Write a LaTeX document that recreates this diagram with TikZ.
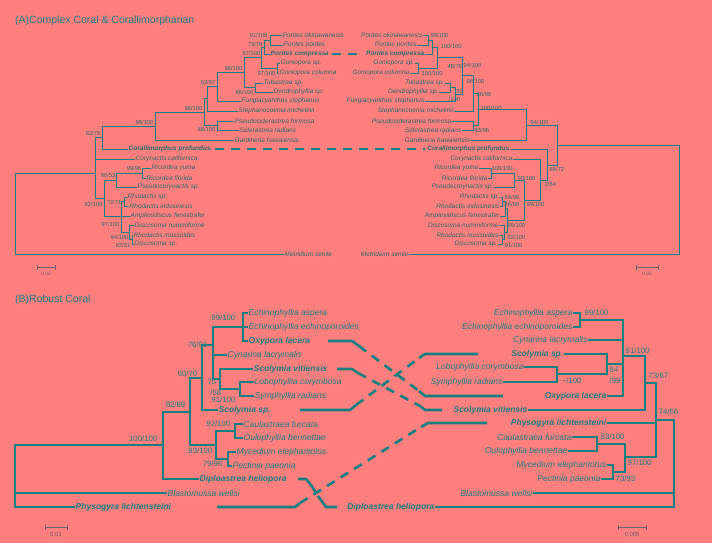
\documentclass[tikz,border=0pt]{standalone}
\usepackage{fontspec}
\setmainfont{Liberation Sans}
\definecolor{bg}{RGB}{255,127,127}
\definecolor{ln}{RGB}{22,128,128}
\definecolor{tx}{RGB}{40,108,108}
\definecolor{gr}{RGB}{105,100,110}
\tikzset{
 br/.style={draw=ln,line width=0.8pt},
 brb/.style={draw=ln,line width=1.2pt},
 sbar/.style={draw=gr,line width=0.9pt},
 ta/.style={inner sep=0.5pt,text=tx,font=\fontsize{6.5}{7}\selectfont\itshape},
 tab/.style={ta,font=\fontsize{6.5}{7}\selectfont\bfseries\itshape},
 sa/.style={inner sep=0.5pt,text=tx,font=\fontsize{5.8}{6}\selectfont},
 tb/.style={inner sep=0.5pt,text=ln,font=\fontsize{8.5}{9}\selectfont\itshape},
 tbb/.style={tb,font=\fontsize{8.5}{9}\selectfont\bfseries\itshape},
 sb/.style={inner sep=0.5pt,text=ln,font=\fontsize{7.8}{8}\selectfont},
 thk/.style={draw=ln,line width=2.6pt},
 thkd/.style={draw=ln,line width=2.6pt,dash pattern=on 9pt off 7pt},
 ttl/.style={inner sep=0pt,text=ln,font=\fontsize{10.5}{11}\selectfont,anchor=west},
}
\newcommand\ed[2]{\draw[br] (#1) |- (#2);}
\newcommand\eb[2]{\draw[brb] (#1) |- (#2);}
\newcommand\sbr[2]{\draw[sbar] (#1) -- (#2);
 \draw[sbar] ([yshift=2.5pt]#1) -- ([yshift=-2.5pt]#1);
 \draw[sbar] ([yshift=2.5pt]#2) -- ([yshift=-2.5pt]#2);}
\begin{document}
\begin{tikzpicture}[x=1pt,y=-1pt]
\fill[bg] (0,0) rectangle (712,543);
\useasboundingbox (0,0) rectangle (712,543);
\node[ttl] (tA) at (15,21) {(A)Complex Coral \& Corallimorpharian};
\node[ttl] (tB) at (15,300) {(B)Robust Coral};
% ===== A left
\begin{scope}[every node/.append style={anchor=west}]
\node[ta] (a1) at (282,35) {Porites okinawanesis};
\node[ta] (a2) at (283,45) {Porites porites};
\node[tab] (a3) at (270,54) {Porites compressa};
\node[ta] (a4) at (280,63) {Goniopora sp.};
\node[ta] (a5) at (279,73) {Goniopora columna};
\node[ta] (a6) at (263,83) {Tubastrea sp.};
\node[ta] (a7) at (273,92) {Dendrophyllia sp.};
\node[ta] (a8) at (241,101) {Fungiacyanthus stephanus};
\node[ta] (a9) at (238,111) {Stephanocoenia michelinii};
\node[ta] (a10) at (234,121) {Pseudosiderastrea formosa};
\node[ta] (a11) at (239,130) {Siderastrea radians};
\node[ta] (a12) at (234,140) {Gardineria hawaiensis};
\node[tab] (a13) at (128,149) {Corallimorphus profundus};
\node[ta] (a14) at (135,159) {Corynactis californica};
\node[ta] (a15) at (151,168) {Ricordea yuma};
\node[ta] (a16) at (146,178) {Ricordea florida};
\node[ta] (a17) at (137,187) {Pseudocorynactis sp.};
\node[ta] (a18) at (127,197) {Rhodactis sp.};
\node[ta] (a19) at (129,206) {Rhodactis indosinesis};
\node[ta] (a20) at (130,216) {Amplexidiscus fenestrafer};
\node[ta] (a21) at (134,225) {Discosoma nummiforme};
\node[ta] (a22) at (133,235) {Rhodactis mussoides};
\node[ta] (a23) at (134,244) {Discosoma sp.};
\node[ta] (a24) at (284,254) {Metridium senile};
\end{scope}
\coordinate (ap) at (270,40); \coordinate (a73) at (264,47);
\coordinate (agon) at (277,68); \coordinate (a97) at (261,57);
\coordinate (atub) at (255,87); \coordinate (a98) at (244,72);
\coordinate (a52) at (217,86); \coordinate (ax) at (207,98);
\coordinate (asid) at (217,125); \coordinate (a98b) at (204,112);
\coordinate (a98a) at (155,126); \coordinate (a82) at (102,137);
\coordinate (aric) at (142,173); \coordinate (a90) at (116,180);
\coordinate (a72) at (124,201); \coordinate (a82b) at (132,239.5);
\coordinate (a94) at (129,232); \coordinate (a97b) at (121,216);
\coordinate (a92) at (104,198); \coordinate (ag) at (95,173);
\coordinate (aroot) at (15,213);
\ed{ap}{a1.west}\ed{ap}{a2.west}\ed{a73}{ap}\ed{a73}{a3.west}
\ed{agon}{a4.west}\ed{agon}{a5.west}\ed{a97}{a73}\ed{a97}{agon}
\ed{atub}{a6.west}\ed{atub}{a7.west}\ed{a98}{a97}\ed{a98}{atub}
\ed{a52}{a98}\ed{a52}{a8.west}\ed{ax}{a52}\ed{ax}{a9.west}
\ed{asid}{a10.west}\ed{asid}{a11.west}\ed{a98b}{ax}\ed{a98b}{asid}
\ed{a98a}{a98b}\ed{a98a}{a12.west}\ed{a82}{a98a}\ed{a82}{a13.west}
\ed{aric}{a15.west}\ed{aric}{a16.west}\ed{a90}{aric}\ed{a90}{a17.west}
\ed{a72}{a18.west}\ed{a72}{a19.west}\ed{a82b}{a22.west}\ed{a82b}{a23.west}
\ed{a94}{a21.west}\ed{a94}{a82b}\ed{a97b}{a72}\ed{a97b}{a20.west}\ed{a97b}{a94}
\ed{a92}{a90}\ed{a92}{a97b}\ed{ag}{a82}\ed{ag}{a14.west}\ed{ag}{a92}
\ed{aroot}{ag}\ed{aroot}{a24.west}
\begin{scope}[every node/.append style={sa,anchor=east}]
\node (la1) at (268,35) {91/100}; \node (la2) at (263,44) {73/79};
\node (la3) at (261,53) {97/100}; \node (la4) at (276,73) {97/100};
\node (la5) at (243,68) {98/100}; \node (la6) at (254,92) {88/100};
\node (la7) at (216,82) {52/67}; \node (la8) at (203,108) {98/100};
\node (la9) at (216,129) {88/100}; \node (la10) at (154,122) {98/100};
\node (la11) at (101,133) {82/76}; \node (la12) at (142,168) {99/96};
\node (la13) at (116,175) {90/53}; \node (la14) at (103,204) {92/100};
\node (la15) at (122,202) {72/71}; \node (la16) at (120,224) {97/100};
\node (la17) at (129,237) {94/100}; \node (la18) at (131,245) {82/91};
\end{scope}
% ===== A right
\begin{scope}[every node/.append style={anchor=east}]
\node[ta] (b1) at (423,35) {Porites okinawanesis};
\node[ta] (b2) at (417,45) {Porites porites};
\node[tab] (b3) at (425,54) {Porites compressa};
\node[ta] (b4) at (415,63) {Goniopora sp.};
\node[ta] (b5) at (410,73) {Goniopora columna};
\node[ta] (b6) at (445,83) {Tubastrea sp.};
\node[ta] (b7) at (439,92) {Dendrophyllia sp.};
\node[ta] (b8) at (425,101) {Fungiacyanthus stephanus};
\node[ta] (b9) at (454,111) {Stephanocoenia michelinii};
\node[ta] (b10) at (452,121) {Pseudosiderastrea formosa};
\node[ta] (b11) at (462,130) {Siderastrea radians};
\node[ta] (b12) at (470,140) {Gardineria hawaiensis};
\node[tab] (b13) at (510,149) {Corallimorphus profundus};
\node[ta] (b14) at (513,159) {Corynactis californica};
\node[ta] (b15) at (479,168) {Ricordea yuma};
\node[ta] (b16) at (488,178) {Ricordea florida};
\node[ta] (b17) at (494,187) {Pseudocorynactis sp.};
\node[ta] (b18) at (500,197) {Rhodactis sp.};
\node[ta] (b19) at (500,206) {Rhodactis indosinesis};
\node[ta] (b20) at (500,216) {Amplexidiscus fenestrafer};
\node[ta] (b21) at (499,225) {Discosoma nummiforme};
\node[ta] (b22) at (499,235) {Rhodactis mussoides};
\node[ta] (b23) at (498,244) {Discosoma sp.};
\node[ta] (b24) at (409,254) {Metridium senile};
\end{scope}
\coordinate (bp) at (428,40); \coordinate (b100) at (432,47);
\coordinate (bgon) at (418,68); \coordinate (b48) at (437,57);
\coordinate (btub) at (450,87); \coordinate (b93) at (455,94);
\coordinate (b94) at (462,75); \coordinate (b86) at (473,93);
\coordinate (bsid) at (473,125); \coordinate (b100b) at (478,109);
\coordinate (b94b) at (526,125); \coordinate (b66) at (557,145);
\coordinate (b66b) at (547,165); \coordinate (b2n) at (540,180);
\coordinate (broot) at (679,200); \coordinate (bric) at (491,173);
\coordinate (b90) at (514,180); \coordinate (b99) at (524,200);
\coordinate (bna) at (502,201); \coordinate (bnb) at (505,208);
\coordinate (bnc) at (502,239.5); \coordinate (bnd) at (504,232);
\coordinate (bne) at (507,220);
\ed{bp}{b1.east}\ed{bp}{b2.east}\ed{b100}{bp}\ed{b100}{b3.east}
\ed{bgon}{b4.east}\ed{bgon}{b5.east}\ed{b48}{b100}\ed{b48}{bgon}
\ed{btub}{b6.east}\ed{btub}{b7.east}\ed{b93}{btub}\ed{b93}{b8.east}
\ed{b94}{b48}\ed{b94}{b93}\ed{b86}{b94}\ed{b86}{b9.east}
\ed{bsid}{b10.east}\ed{bsid}{b11.east}\ed{b100b}{b86}\ed{b100b}{bsid}
\ed{b94b}{b100b}\ed{b94b}{b12.east}\ed{b66}{b94b}\ed{b66}{b66b}
\ed{b66b}{b13.east}\ed{b66b}{b2n}\ed{b2n}{b14.east}\ed{b2n}{b99}
\ed{broot}{b66}\ed{broot}{b24.east}
\ed{bric}{b15.east}\ed{bric}{b16.east}\ed{b90}{bric}\ed{b90}{b17.east}
\ed{b99}{b90}\ed{b99}{bne}\ed{bna}{b18.east}\ed{bna}{b19.east}
\ed{bnb}{bna}\ed{bnb}{b20.east}\ed{bnc}{b22.east}\ed{bnc}{b23.east}
\ed{bnd}{b21.east}\ed{bnd}{bnc}\ed{bne}{bnb}\ed{bne}{bnd}
\begin{scope}[every node/.append style={sa,anchor=west}]
\node (lb1) at (430,35) {99/100}; \node (lb2) at (440,46) {100/100};
\node (lb3) at (447,66) {48/76}; \node (lb4) at (421,73) {100/100};
\node (lb5) at (463,65) {94/100}; \node (lb6) at (466,81) {96/100};
\node (lb7) at (456,92) {93}; \node (lb8) at (448,99) {/100};
\node (lb9) at (476,94) {86/99}; \node (lb10) at (480,108) {100/100};
\node (lb11) at (474,130) {83/96}; \node (lb12) at (530,122) {94/100};
\node (lb13) at (549,169) {66/72}; \node (lb14) at (544,184) {2/64};
\node (lb15) at (491,168) {100/100}; \node (lb16) at (517,178) {90/100};
\node (lb17) at (504,197) {84/98}; \node (lb18) at (504,204) {86/99};
\node (lb19) at (526,204) {99/100}; \node (lb20) at (507,225) {99/100};
\node (lb21) at (507,237) {92/100}; \node (lb22) at (504,245) {91/100};
\end{scope}
\draw[thkd] ([xshift=2pt]a3.east) -- ([xshift=-2pt]b3.west);
\draw[thkd] ([xshift=4pt]a13.east) -- ([xshift=-2pt]b13.west);
% scale bars A
\coordinate (sa1) at (37,267); \coordinate (sa2) at (55,267);
\sbr{sa1}{sa2}
\node[inner sep=0pt,text=gr,font=\fontsize{4.8}{5}\selectfont] (sal) at (46,274) {0.02};
\coordinate (sb1) at (636,267); \coordinate (sb2) at (658,267);
\sbr{sb1}{sb2}
\node[inner sep=0pt,text=gr,font=\fontsize{4.8}{5}\selectfont] (sbl) at (647,274) {0.05};
% ===== B left
\begin{scope}[every node/.append style={anchor=west}]
\node[tb] (c1) at (248,313) {Echinophyllia aspera};
\node[tb] (c2) at (248,327) {Echinophyllia echinoporoides};
\node[tbb] (c3) at (248,341) {Oxypora lacera};
\node[tb] (c4) at (227,355) {Cynarina lacrymalis};
\node[tbb] (c5) at (253,369) {Scolymia vitiensis};
\node[tb] (c6) at (254,382) {Lobophyllia corymbosa};
\node[tb] (c7) at (254,396) {Symphyllia radians};
\node[tbb] (c8) at (218,410) {Scolymia sp.};
\node[tb] (c9) at (243,424) {Caulastraea furcata};
\node[tb] (c10) at (243,438) {Oulophyllia bennettae};
\node[tb] (c11) at (236,452) {Mycedium elephantotus};
\node[tb] (c12) at (232,466) {Pectinia paeonia};
\node[tbb] (c13) at (199,479) {Diploastrea heliopora};
\node[tb] (c14) at (167,493) {Blastomussa wellsi};
\node[tbb] (c15) at (75,507) {Physogyra lichtensteini};
\end{scope}
\coordinate (c99) at (243,327); \coordinate (c91) at (240,389);
\coordinate (c75) at (220,379); \coordinate (c76) at (213,345);
\coordinate (c60) at (202,378); \coordinate (c92) at (235,431);
\coordinate (c79) at (228,459); \coordinate (c93) at (216,445);
\coordinate (c82) at (190,412); \coordinate (c100) at (163,445);
\coordinate (croot) at (15,476);
\eb{c99}{c1.west}\eb{c99}{c2.west}\eb{c99}{c3.west}
\eb{c91}{c6.west}\eb{c91}{c7.west}\eb{c75}{c5.west}\eb{c75}{c91}
\eb{c76}{c99}\eb{c76}{c4.west}\eb{c76}{c75}\eb{c60}{c76}\eb{c60}{c8.west}
\eb{c92}{c9.west}\eb{c92}{c10.west}\eb{c79}{c11.west}\eb{c79}{c12.west}
\eb{c93}{c92}\eb{c93}{c79}\eb{c82}{c60}\eb{c82}{c93}
\eb{c100}{c82}\eb{c100}{c13.west}
\eb{croot}{c100}\eb{croot}{c14.west}\eb{croot}{c15.west}
\begin{scope}[every node/.append style={sb,anchor=east}]
\node (lc1) at (236,318) {99/100}; \node (lc2) at (208,345) {76/91};
\node (lc3) at (198,374) {60/70}; \node (lc4) at (217,382) {75};
\node (lc5) at (222,393) {/58}; \node (lc6) at (236,400) {91/100};
\node (lc7) at (186,405) {82/89}; \node (lc8) at (231,424) {92/100};
\node (lc9) at (213,451) {93/100}; \node (lc10) at (223,464) {79/96};
\node (lc11) at (158,439) {100/100};
\end{scope}
% ===== B right
\begin{scope}[every node/.append style={anchor=east}]
\node[tb] (d1) at (573,313) {Echinophyllia aspera};
\node[tb] (d2) at (573,327) {Echinophyllia echinoporoides};
\node[tb] (d3) at (588,340) {Cynarina lacrymalis};
\node[tbb] (d4) at (564,354) {Scolymia sp.};
\node[tb] (d5) at (524,367) {Lobophyllia corymbosa};
\node[tb] (d6) at (503,382) {Symphyllia radians};
\node[tbb] (d7) at (607,396) {Oxypora lacera};
\node[tbb] (d8) at (528,410) {Scolymia vitiensis};
\node[tbb] (d9) at (607,423) {Physogyra lichtensteini};
\node[tb] (d10) at (572,437) {Caulastraea furcata};
\node[tb] (d11) at (568,451) {Oulophyllia bennettae};
\node[tb] (d12) at (607,465) {Mycedium elephantotus};
\node[tb] (d13) at (601,479) {Pectinia paeonia};
\node[tb] (d14) at (533,493) {Blastomussa wellsi};
\node[tbb] (d15) at (435,507) {Diploastrea heliopora};
\end{scope}
\coordinate (decho) at (580,320); \coordinate (dlobo) at (557,374);
\coordinate (d84) at (607,364); \coordinate (d91) at (623,356);
\coordinate (d73) at (645,383); \coordinate (d93) at (597,444);
\coordinate (d73c) at (613,472); \coordinate (d97) at (625,457);
\coordinate (d656) at (656,420); \coordinate (droot) at (674,463);
\eb{decho}{d1.east}\eb{decho}{d2.east}\eb{dlobo}{d5.east}\eb{dlobo}{d6.east}
\eb{d84}{d4.east}\eb{d84}{dlobo}
\eb{d91}{decho}\eb{d91}{d3.east}\eb{d91}{d84}\eb{d91}{d7.east}
\eb{d73}{d91}\eb{d73}{d8.east}
\eb{d93}{d10.east}\eb{d93}{d11.east}\eb{d73c}{d12.east}\eb{d73c}{d13.east}
\eb{d97}{d93}\eb{d97}{d73c}
\eb{d656}{d73}\eb{d656}{d9.east}\eb{d656}{d97}
\eb{droot}{d656}\eb{droot}{d14.east}\eb{droot}{d15.east}
\begin{scope}[every node/.append style={sb,anchor=west}]
\node (ld1) at (584,313) {99/100}; \node (ld2) at (625,351) {91/100};
\node (ld3) at (609,370) {84}; \node (ld4) at (609,381) {/99};
\node (ld5) at (561,381) {\textasciitilde/100}; \node (ld6) at (648,376) {73/67};
\node (ld7) at (658,412) {74/66}; \node (ld8) at (600,437) {93/100};
\node (ld9) at (627,463) {97/100}; \node (ld10) at (615,479) {73/93};
\end{scope}
% crossing connectors B
\draw[thk] (328,341) -- (352,341) -- (359,346);
\draw[thkd] (359,346) -- (419,391);
\draw[thk] (419,391) -- (425,396) -- (503,396);
\draw[thk] (337,369) -- (352,369) -- (358,373);
\draw[thkd] (358,373) -- (420,406);
\draw[thk] (420,406) -- (425,410) -- (442,410);
\draw[thk] (300,410) -- (350,410) -- (356,405);
\draw[thkd] (356,405) -- (419,358);
\draw[thk] (419,358) -- (425,354) -- (478,354);
\draw[thk] (217,507) -- (295,507) -- (300,503);
\draw[thkd] (300,503) -- (421,427);
\draw[thk] (421,427) -- (428,423) -- (487,423);
\draw[thk] (298,479) -- (306,479) -- (311,485);
\draw[thkd] (311,485) -- (318,496);
\draw[thk] (318,496) -- (326,507) -- (337,507);
% scale bars B
\coordinate (sc1) at (45,527); \coordinate (sc2) at (67,527);
\sbr{sc1}{sc2}
\node[inner sep=0pt,text=gr,font=\fontsize{6}{6}\selectfont] (scl) at (56,534) {0.01};
\coordinate (sd1) at (618,527); \coordinate (sd2) at (646,527);
\sbr{sd1}{sd2}
\node[inner sep=0pt,text=gr,font=\fontsize{6}{6}\selectfont] (sdl) at (632,534) {0.005};
\end{tikzpicture}
\end{document}
